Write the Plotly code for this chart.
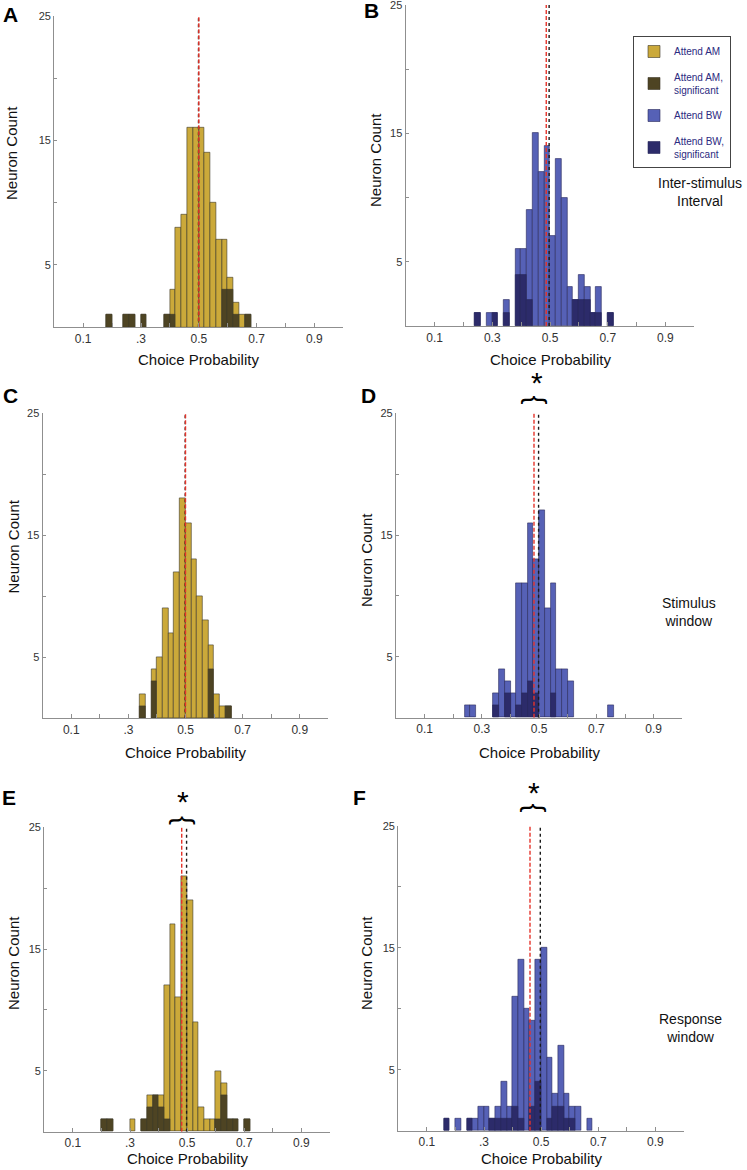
import plotly.graph_objects as go

# ---------------- data ----------------
BIN_CENTERS = [0.17, 0.19, 0.21, 0.23, 0.25, 0.27, 0.29, 0.31, 0.33, 0.35,
               0.37, 0.39, 0.41, 0.43, 0.45, 0.47, 0.49, 0.51, 0.53, 0.55,
               0.57, 0.59, 0.61, 0.63, 0.65, 0.67, 0.69, 0.71, 0.73, 0.75]
BIN_WIDTH = 0.02

A_total = [0, 1, 0, 0, 1, 1, 0, 1, 0, 0, 0, 1, 3, 8, 9, 16, 16, 16, 14, 10, 7, 7, 4, 2, 1, 1, 0, 0, 0, 0]
A_sig   = [0, 1, 0, 0, 1, 1, 0, 1, 0, 0, 0, 1, 1, 0, 0, 0, 0, 0, 0, 0, 0, 3, 3, 1, 0, 1, 0, 0, 0, 0]
B_total = [0, 0, 0, 0, 1, 0, 1, 1, 0, 2, 0, 6, 6, 9, 15, 12, 14, 7, 13, 10, 3, 2, 4, 3, 1, 3, 0, 1, 0, 0]
B_sig   = [0, 0, 0, 0, 1, 0, 0, 1, 0, 1, 0, 4, 4, 2, 0, 0, 0, 0, 0, 0, 0, 2, 2, 2, 1, 1, 0, 1, 0, 0]
C_total = [0, 0, 0, 0, 0, 0, 0, 0, 0, 2, 0, 4, 5, 9, 7, 12, 18, 16, 13, 10, 8, 6, 2, 1, 1, 0, 0, 0, 0, 0]
C_sig   = [0, 0, 0, 0, 0, 0, 0, 0, 0, 1, 0, 3, 0, 0, 0, 0, 0, 0, 0, 0, 0, 4, 0, 0, 1, 0, 0, 0, 0, 0]
D_total = [0, 0, 0, 0, 1, 1, 0, 0, 0, 2, 4, 3, 2, 11, 11, 16, 13, 17, 9, 11, 4, 4, 3, 0, 0, 0, 0, 0, 0, 1]
D_sig   = [0, 0, 0, 0, 0, 0, 0, 0, 0, 1, 0, 2, 0, 1, 2, 3, 2, 0, 0, 2, 0, 0, 0, 0, 0, 0, 0, 0, 0, 0]
E_total = [0, 0, 1, 1, 0, 0, 0, 1, 0, 1, 3, 3, 3, 12, 17, 11, 21, 19, 9, 2, 1, 1, 5, 4, 1, 1, 0, 1, 0, 0]
E_sig   = [0, 0, 1, 1, 0, 0, 0, 0, 0, 1, 2, 3, 2, 1, 0, 0, 0, 0, 0, 0, 0, 0, 1, 3, 1, 1, 0, 1, 0, 0]
F_total = [1, 0, 1, 0, 1, 1, 2, 2, 1, 2, 4, 2, 11, 14, 10, 9, 14, 15, 6, 3, 7, 3, 2, 2, 0, 1, 0, 0, 0, 0]
F_sig   = [1, 0, 0, 0, 1, 0, 0, 0, 1, 1, 1, 1, 2, 1, 0, 2, 4, 0, 1, 2, 2, 1, 1, 0, 0, 0, 0, 0, 0, 0]

# mean lines (red dashed, black dotted) per panel A..F
RED_LINE   = [0.500, 0.487, 0.500, 0.482, 0.481, 0.461]
BLACK_LINE = [0.499, 0.497, 0.499, 0.498, 0.498, 0.497]

X_TICKS = [0.1, 0.2, 0.3, 0.4, 0.5, 0.6, 0.7, 0.8, 0.9, 1.0]
X_LABELS_SHORT = ["0.1", "", ".3", "", "0.5", "", "0.7", "", "0.9", ""]
X_LABELS_FULL = ["0.1", "", "0.3", "", "0.5", "", "0.7", "", "0.9", ""]
Y_TICKS = [0, 5, 10, 15, 20, 25]
Y_LABELS = ["", "5", "", "15", "", "25"]

PANEL_LETTERS = ["A", "B", "C", "D", "E", "F"]
SIDE_TEXT = ["Inter-stimulus<br>Interval", "Stimulus<br>window", "Response<br>window"]
LEGEND_NAMES = ["Attend AM", "Attend AM,<br>significant", "Attend BW", "Attend BW,<br>significant"]

# ---------------- styling / layout ----------------
W, H = 747, 1170
FONT = "Liberation Sans, Arial, Helvetica, sans-serif"
GOLD, OLIVE = "#CBA93A", "#4E4423"
BLUE, NAVY = "#5661B6", "#2C2B6A"


def fx(px):
    return px / W


def fy(py):
    return 1 - py / H


def nz(vals):
    return [v if v else None for v in vals]


# axis box in pixels: (left, right, top, bottom)
BOXES = [
    (54.3, 343.3, 15.7, 327.3),
    (405.7, 694.3, 5.0, 326.0),
    (42.7, 328.3, 413.3, 718.3),
    (396.0, 682.3, 413.3, 717.7),
    (44.3, 330.0, 827.3, 1131.7),
    (398.3, 684.0, 825.7, 1130.7),
]
XTITLE_Y = [359, 359, 752, 752, 1158, 1158]
totals = [A_total, B_total, C_total, D_total, E_total, F_total]
sigs = [A_sig, B_sig, C_sig, D_sig, E_sig, F_sig]
xlabels = [X_LABELS_SHORT, X_LABELS_FULL, X_LABELS_SHORT, X_LABELS_FULL, X_LABELS_SHORT, X_LABELS_SHORT]

fig = go.Figure()
layout = dict(
    width=W, height=H, margin=dict(l=0, r=0, t=0, b=0, autoexpand=False),
    paper_bgcolor="white", plot_bgcolor="white",
    barmode="overlay", bargap=0,
    font=dict(family=FONT, color="#222"),
    showlegend=True,
    legend=dict(x=fx(633), y=fy(36), xanchor="left", yanchor="top",
                bordercolor="#444", borderwidth=1, bgcolor="white",
                font=dict(family=FONT, size=10, color="#2B2A80"),
                traceorder="grouped", tracegroupgap=8,
                itemwidth=30),
)
annotations = []

for i in range(6):
    n = i + 1
    xa = "x" if n == 1 else f"x{n}"
    ya = "y" if n == 1 else f"y{n}"
    am = (i % 2 == 0)
    light, dark = (GOLD, OLIVE) if am else (BLUE, NAVY)
    edge = "rgba(60,55,40,0.75)" if am else "rgba(40,40,90,0.75)"
    show = (i == 0 or i == 1)
    nm_l = LEGEND_NAMES[0] if am else LEGEND_NAMES[2]
    nm_d = LEGEND_NAMES[1] if am else LEGEND_NAMES[3]
    rank = 0 if am else 2
    fig.add_trace(go.Bar(
        x=BIN_CENTERS, y=nz(totals[i]), width=BIN_WIDTH, xaxis=xa, yaxis=ya,
        marker=dict(color=light, line=dict(color=edge, width=0.8)),
        name=nm_l, showlegend=show, legendgroup=nm_l, legendrank=rank + 1,
        hoverinfo="skip"))
    fig.add_trace(go.Bar(
        x=BIN_CENTERS, y=nz(sigs[i]), width=BIN_WIDTH, xaxis=xa, yaxis=ya,
        marker=dict(color=dark, line=dict(color=edge, width=0.8)),
        name=nm_d, showlegend=show, legendgroup=nm_d, legendrank=rank + 2,
        hoverinfo="skip"))
    fig.add_trace(go.Scatter(
        x=[BLACK_LINE[i], BLACK_LINE[i]], y=[0, 25], mode="lines", xaxis=xa, yaxis=ya,
        line=dict(color="#1a1a1a", width=1.4, dash="dot"), showlegend=False, hoverinfo="skip"))
    fig.add_trace(go.Scatter(
        x=[RED_LINE[i], RED_LINE[i]], y=[0, 25], mode="lines", xaxis=xa, yaxis=ya,
        line=dict(color="#E5332A", width=1.4, dash="4px,2px"), showlegend=False, hoverinfo="skip"))

    l, r, t, b = BOXES[i]
    axis_common = dict(showline=True, linecolor="#8f8f8f", linewidth=1.3, mirror=False,
                       showgrid=False, zeroline=False, ticks="inside", tickcolor="#8f8f8f",
                       fixedrange=True, automargin=False, ticklabeloverflow="allow")
    layout["xaxis" if n == 1 else f"xaxis{n}"] = dict(
        domain=[fx(l), fx(r)], anchor=ya, range=[0, 1],
        tickvals=X_TICKS, ticktext=xlabels[i], ticklen=4,
        tickfont=dict(size=12, color="#333"), **axis_common)
    layout["yaxis" if n == 1 else f"yaxis{n}"] = dict(
        domain=[fy(b), fy(t)], anchor=xa, range=[0, 25],
        tickvals=Y_TICKS, ticktext=Y_LABELS, ticklen=3,
        tickfont=dict(size=11, color="#333"), **axis_common)

    # x-axis title
    cx = (l + r) / 2
    annotations.append(dict(text="Choice Probability", x=fx(cx), y=fy(XTITLE_Y[i]), xref="paper", yref="paper",
                            showarrow=False, font=dict(size=15, color="#111"), xanchor="center", yanchor="middle"))

# y-axis titles (pixel centers)
NC_POS = [(12, 153), (376, 160), (12.5, 547), (366, 560), (13, 963), (366, 963)]
for (px, py) in NC_POS:
    annotations.append(dict(text="Neuron Count", x=fx(px), y=fy(py), xref="paper", yref="paper",
                            showarrow=False, textangle=-90, font=dict(size=15, color="#111"),
                            xanchor="center", yanchor="middle"))

# panel letters
LETTER_POS = [(10, 15), (371, 11), (10, 395), (368, 395), (9, 797), (359, 797)]
for letter, (px, py) in zip(PANEL_LETTERS, LETTER_POS):
    annotations.append(dict(text=f"<b>{letter}</b>", x=fx(px), y=fy(py), xref="paper", yref="paper",
                            showarrow=False, font=dict(size=21, color="#000"),
                            xanchor="center", yanchor="middle"))

# side texts
SIDE_POS = [(700, 192), (689, 612), (690, 1028)]
for txt, (px, py) in zip(SIDE_TEXT, SIDE_POS):
    annotations.append(dict(text=txt, x=fx(px), y=fy(py), xref="paper", yref="paper",
                            showarrow=False, font=dict(size=14, color="#111"),
                            xanchor="center", yanchor="middle", align="center"))

# significance asterisks and braces
STAR_POS = [(536.5, 377), (182.7, 795), (534, 786)]
BRACE_POS = [(535.5, 400), (184, 820), (534.5, 808)]
for (sx, sy), (bx, by) in zip(STAR_POS, BRACE_POS):
    annotations.append(dict(text="*", x=fx(sx), y=fy(sy + 6), xref="paper", yref="paper",
                            showarrow=False, font=dict(size=30, color="#000"),
                            xanchor="center", yanchor="middle"))
    annotations.append(dict(text="{", x=fx(bx), y=fy(by), xref="paper", yref="paper",
                            showarrow=False, textangle=90, font=dict(size=27, color="#000"),
                            xanchor="center", yanchor="middle"))

layout["annotations"] = annotations
fig.update_layout(**layout)
fig.write_html("out.html", config={"displayModeBar": False},
               post_script="document.body.style.margin='0';")
